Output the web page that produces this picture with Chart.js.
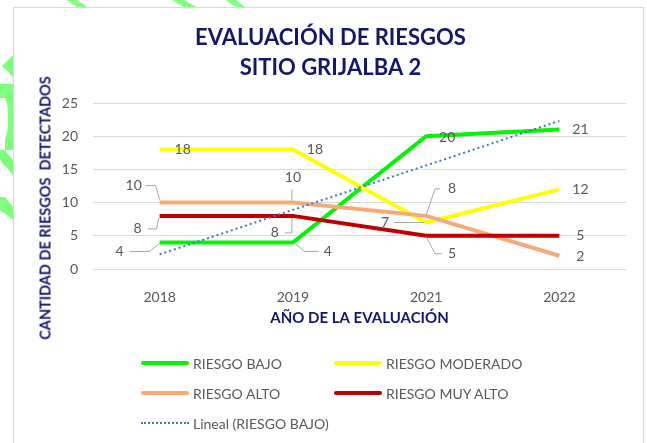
<!DOCTYPE html>
<html>
<head>
<meta charset="utf-8">
<script src="https://cdn.jsdelivr.net/npm/chart.js@4.4.0/dist/chart.umd.min.js"></script>
<style>
  html, body { margin: 0; padding: 0; background: #fff; }
  #wrap { position: relative; width: 647px; height: 443px; overflow: hidden; font-family: Lato, sans-serif; }
  #marks { position: absolute; left: 0; top: 0; }
  #frame { position: absolute; left: 13px; top: 7px; width: 631px; height: 450px; border: 1px solid #d9d9d9; box-sizing: border-box; }
  #chart { position: absolute; left: 0; top: 0; }
  #ytitle { position: absolute; left: 45px; top: 208px; transform: translate(-50%, -50%) rotate(-90deg);
            white-space: pre; font-weight: bold; font-size: 14.5px; color: #151670; }
  #legend { position: absolute; left: 141px; top: 348px; display: grid; grid-template-columns: 193px auto; grid-auto-rows: 30px; }
  #legend .item { display: flex; align-items: center; font-size: 14px; color: #595959; white-space: pre; }
  #legend .sym { width: 48px; height: 4px; border-radius: 2px; margin-right: 4px; }
  #legend .dot { width: 48px; height: 0; border-top: 2px dotted #4472c4; margin-right: 4px; }
</style>
</head>
<body>
<div id="wrap">
  <svg id="marks" width="647" height="443">
    <g fill="#7dff7d">
      <polygon points="67,0 77,0 87,7 77,7"/>
      <polygon points="172,0 184,0 196,7 184,7"/>
      <polygon points="226,0 236,0 245,7 236,7"/>
      <polygon points="2,66 13,55 13,77"/>
      <polygon points="0,84 13,84 13,150 5,150 5,140 8,128 8,108 5,98 0,98"/>
      <polygon points="0,150 5,150 13,160 13,175 0,160"/>
      <polygon points="0,197 5,197 13,207 13,220 0,210"/>
    </g>
  </svg>
  <div id="frame"></div>
  <canvas id="chart" width="647" height="443"></canvas>
  <div id="ytitle">CANTIDAD DE RIESGOS  DETECTADOS</div>
  <div id="legend"></div>
</div>
<script>
// chart data
const years = ['2018', '2019', '2021', '2022'];
const riesgoBajo = [4, 4, 20, 21];
const riesgoModerado = [18, 18, 7, 12];
const riesgoAlto = [10, 10, 8, 2];
const riesgoMuyAlto = [8, 8, 5, 5];
const lineal = [2.2, 8.9, 15.6, 22.3]; // Excel linear trend of RIESGO BAJO
const yTicks = [0, 5, 10, 15, 20, 25];

const navy = '#151670';
const gray = '#595959';

// where each value label sits relative to its point, plus optional leader line
const labelPos = [
  [ {dx: -40, dy: 9, leader: [[-30, 9], [-10, 9], [0, 1]]},
    {dx: 35, dy: 9, leader: [[2, 1], [12, 9], [26, 9]]},
    {dx: 21, dy: 1},
    {dx: 21, dy: 0} ],
  [ {dx: 23, dy: 0},
    {dx: 22, dy: 0},
    {dx: -41, dy: 0, leader: [[-32, 0], [-2, 0]]},
    {dx: 21, dy: 0} ],
  [ {dx: -26, dy: -17, leader: [[-14, -17], [-4, -17], [0, -3]]},
    {dx: 0, dy: -25, leader: [[-1, -13], [-1, -2]]},
    {dx: 26, dy: -27, leader: [[14, -27], [9, -27], [0, -1]]},
    {dx: 21, dy: 1} ],
  [ {dx: -22, dy: 13, leader: [[-12, 13], [-3, 13], [-1, 2]]},
    {dx: -18, dy: 17, leader: [[-8, 17], [-1, 17], [-1, 2]]},
    {dx: 26, dy: 18, leader: [[0, 1], [9, 18], [16, 18]]},
    {dx: 21, dy: 0} ]
];

const valueLabels = {
  id: 'valueLabels',
  afterDatasetsDraw(chart) {
    const ctx = chart.ctx;
    ctx.save();
    labelPos.forEach((pos, di) => {
      const meta = chart.getDatasetMeta(di);
      const values = chart.data.datasets[di].data;
      meta.data.forEach((pt, i) => {
        const p = pos[i];
        if (p.leader) {
          ctx.strokeStyle = '#a6a6a6';
          ctx.lineWidth = 1;
          ctx.beginPath();
          p.leader.forEach(([lx, ly], k) => {
            if (k === 0) ctx.moveTo(pt.x + lx, pt.y + ly);
            else ctx.lineTo(pt.x + lx, pt.y + ly);
          });
          ctx.stroke();
        }
        ctx.fillStyle = gray;
        ctx.font = '14px Lato';
        ctx.textAlign = 'center';
        ctx.textBaseline = 'middle';
        ctx.fillText(String(values[i]), pt.x + p.dx, pt.y + p.dy);
      });
    });
    ctx.restore();
  }
};

Chart.defaults.font.family = 'Lato';
Chart.defaults.color = gray;

const chart = new Chart(document.getElementById('chart'), {
  type: 'line',
  data: {
    labels: years,
    datasets: [
      {label: 'RIESGO BAJO', data: riesgoBajo, borderColor: '#00f500', order: 5},
      {label: 'RIESGO MODERADO', data: riesgoModerado, borderColor: '#ffff00', order: 4},
      {label: 'RIESGO ALTO', data: riesgoAlto, borderColor: '#f8a97a', order: 3},
      {label: 'RIESGO MUY ALTO', data: riesgoMuyAlto, borderColor: '#c00000', order: 2},
      {label: 'Lineal (RIESGO BAJO)', data: lineal, borderColor: '#4472c4', borderWidth: 2,
       borderDash: [2, 3], order: 1, trend: true}
    ]
  },
  options: {
    responsive: false,
    animation: false,
    devicePixelRatio: 1,
    elements: {
      line: {borderWidth: 4, tension: 0, fill: false},
      point: {radius: 0, hoverRadius: 0}
    },
    layout: {padding: {left: 35, right: 21, top: 8, bottom: 108}},
    scales: {
      x: {
        offset: true,
        grid: {display: false},
        border: {display: false},
        ticks: {padding: 12, font: {size: 14}, color: gray},
        title: {display: true, text: 'AÑO DE LA EVALUACIÓN', color: navy,
                font: {size: 15, weight: 'bold'}, padding: {top: 0, bottom: 8}},
        afterFit: s => { s.height = 66; }
      },
      y: {
        min: 0,
        max: 25,
        afterBuildTicks: s => { s.ticks = yTicks.map(v => ({value: v})); },
        grid: {color: '#d9d9d9', drawTicks: false},
        border: {display: false},
        ticks: {padding: 15, font: {size: 14}, color: gray},
        afterFit: s => { s.width = 58; }
      }
    },
    plugins: {
      legend: {display: false},
      tooltip: {enabled: false},
      title: {
        display: true,
        text: ['EVALUACIÓN DE RIESGOS', 'SITIO GRIJALBA 2'],
        color: navy,
        font: {size: 22, weight: 'bold', lineHeight: 30 / 22},
        padding: {top: 15, bottom: 20}
      }
    }
  },
  plugins: [valueLabels]
});

// legend in two columns, as in the reference
const legend = document.getElementById('legend');
chart.data.datasets.forEach(ds => {
  const item = document.createElement('div');
  item.className = 'item';
  const sym = document.createElement('span');
  if (ds.trend) {
    sym.className = 'dot';
  } else {
    sym.className = 'sym';
    sym.style.background = ds.borderColor;
  }
  item.appendChild(sym);
  item.appendChild(document.createTextNode(ds.label));
  legend.appendChild(item);
});
</script>
</body>
</html>
